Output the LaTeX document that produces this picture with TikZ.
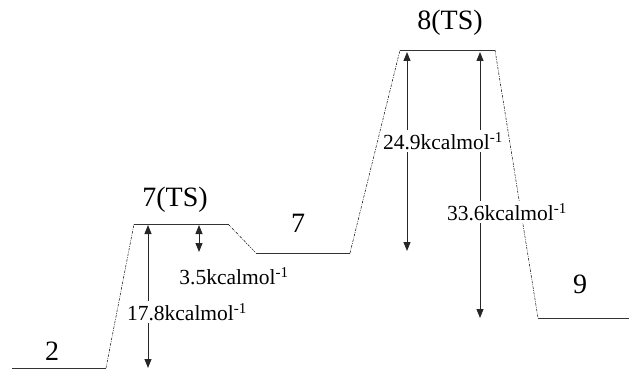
\documentclass[tikz,border=0pt]{standalone}
\usepackage{fontspec}
\setmainfont{Liberation Serif}
\usetikzlibrary{arrows.meta}
\begin{document}
\begin{tikzpicture}[x=1pt,y=-1pt,
  level/.style={draw=black!80,line width=0.9pt},
  conn/.style={draw=black,line width=0.5pt,dash pattern=on 2.5pt off 1.2pt on 0.8pt off 1.2pt},
  energy/.style={draw=black!85,line width=0.9pt,{Triangle[length=9pt,width=7pt]}-{Triangle[length=9pt,width=7pt]}},
  statelbl/.style={font=\fontsize{28}{30}\selectfont,inner sep=0pt},
  elbl/.style={font=\fontsize{21.5}{23}\selectfont,fill=white,inner sep=2pt}]
\useasboundingbox (0,0) rectangle (629,369);
% level end points
\coordinate (s2a) at (12,368);   \coordinate (s2b) at (106,368);
\coordinate (t7a) at (134,224);  \coordinate (t7b) at (228,224);
\coordinate (s7a) at (256,253);  \coordinate (s7b) at (350,253);
\coordinate (t8a) at (400,50);   \coordinate (t8b) at (495,50);
\coordinate (s9a) at (538,318);  \coordinate (s9b) at (629,318);
% connectors
\draw[conn] (s2b) -- (t7a);
\draw[conn] (t7b) -- (s7a);
\draw[conn] (s7b) -- (t8a);
\draw[conn] (t8b) -- (s9a);
% levels
\draw[level] (s2a) -- (s2b);
\draw[level] (t7a) -- (t7b);
\draw[level] (s7a) -- (s7b);
\draw[level] (t8a) -- (t8b);
\draw[level] (s9a) -- (s9b);
% state labels
\node[statelbl] (l2) at (52,351) {2};
\node[statelbl] (l7ts) at (175,200) {7(TS)};
\node[statelbl] (l7) at (298,223) {7};
\node[statelbl] (l8ts) at (450,23) {8(TS)};
\node[statelbl] (l9) at (580,284) {9};
% energy arrows
\coordinate (a1t) at (148,225); \coordinate (a1b) at (148,368);
\coordinate (a2t) at (199,225); \coordinate (a2b) at (199,252);
\coordinate (a3t) at (407,52);  \coordinate (a3b) at (407,251);
\coordinate (a4t) at (480,52);  \coordinate (a4b) at (480,318);
\draw[energy] (a1t) -- (a1b);
\draw[energy] (a2t) -- (a2b);
\draw[energy] (a3t) -- (a3b);
\draw[energy] (a4t) -- (a4b);
% energy labels
\node[elbl] (e1) at (187,312) {17.8kcalmol\textsuperscript{-1}};
\node[elbl] (e2) at (234,276) {3.5kcalmol\textsuperscript{-1}};
\node[elbl] (e3) at (443,141) {24.9kcalmol\textsuperscript{-1}};
\node[elbl] (e4) at (507,212) {33.6kcalmol\textsuperscript{-1}};
\end{tikzpicture}
\end{document}
